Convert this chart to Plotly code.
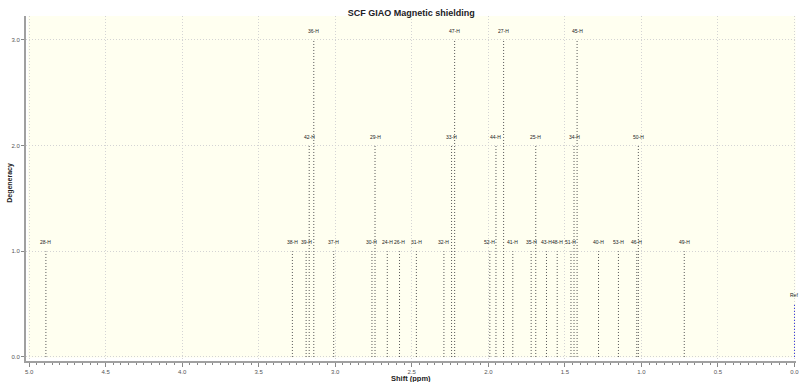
import plotly.graph_objects as go

# ---- data ----
labels = ["28-H", "38-H", "39-H", "42-H", "36-H", "37-H", "30-H", "29-H", "24-H", "26-H",
          "31-H", "32-H", "33-H", "47-H", "52-H", "44-H", "27-H", "41-H", "35-H", "25-H",
          "43-H", "48-H", "51-H", "34-H", "45-H", "40-H", "53-H", "46-H", "50-H", "49-H"]
shifts = [4.89, 3.28, 3.19, 3.17, 3.14, 3.01, 2.76, 2.74, 2.66, 2.58,
          2.47, 2.29, 2.24, 2.22, 1.99, 1.95, 1.90, 1.84, 1.72, 1.69,
          1.62, 1.55, 1.46, 1.44, 1.42, 1.28, 1.15, 1.03, 1.02, 0.72]
degeneracy = [1, 1, 1, 2, 3, 1, 1, 2, 1, 1,
              1, 1, 2, 3, 1, 2, 3, 1, 1, 2,
              1, 1, 1, 2, 3, 1, 1, 1, 2, 1]
ref_label = "Ref"
ref_shift = 0.0
ref_height = 0.5

title_text = "SCF GIAO Magnetic shielding"
x_title = "Shift (ppm)"
y_title = "Degeneracy"

FONT = "Liberation Sans, Arial, sans-serif"

fig = go.Figure()

# stick lines
xs, ys = [], []
for s, d in zip(shifts, degeneracy):
    xs += [s, s, None]
    ys += [0, d, None]
fig.add_trace(go.Scatter(x=xs, y=ys, mode="lines",
                         line=dict(color="#555555", width=1, dash="1px,2px"),
                         hoverinfo="skip", showlegend=False))
fig.add_trace(go.Scatter(x=[ref_shift, ref_shift], y=[0, ref_height], mode="lines",
                         line=dict(color="#3333dd", width=1, dash="1px,2px"),
                         hoverinfo="skip", showlegend=False))

# labels
for s, d, lab in zip(shifts + [ref_shift], degeneracy + [ref_height], labels + [ref_label]):
    fig.add_annotation(x=s, y=d, text=lab, showarrow=False, yshift=9,
                       font=dict(family=FONT, size=5, color="#222222"))

# axis titles
fig.add_annotation(xref="paper", yref="paper", x=0.5, y=-0.05, yanchor="middle",
                   text="<b>" + x_title + "</b>", showarrow=False,
                   font=dict(family=FONT, size=7.5, color="#222222"))
fig.add_annotation(xref="paper", yref="paper", x=-0.021, y=0.516, xanchor="center", yanchor="middle",
                   text="<b>" + y_title + "</b>", showarrow=False, textangle=-90,
                   font=dict(family=FONT, size=7, color="#222222"))

# pale plot background
fig.add_shape(type="rect", xref="x", yref="y", x0=5.007, x1=-0.007, y0=-0.005, y1=3.226,
              fillcolor="#fffff0", line=dict(width=0), layer="below")

fig.update_layout(
    width=800, height=382,
    margin=dict(l=26, r=4, t=16, b=21, autoexpand=False),
    paper_bgcolor="white", plot_bgcolor="white",
    title=dict(text="<b>" + title_text + "</b>", x=0.514, xanchor="center", y=0.966, yanchor="middle",
               font=dict(family=FONT, size=9, color="#222222")),
    showlegend=False,
)
fig.update_xaxes(
    range=[5.02, -0.01], tickmode="linear", tick0=0, dtick=0.5, tickformat=".1f",
    showgrid=True, gridcolor="#d4d4d4", griddash="1px,2px", gridwidth=1, zeroline=False,
    showline=True, linecolor="#a0a0a0", linewidth=2, automargin=False,
    ticks="outside", ticklen=4, tickcolor="#888888", tickwidth=1,
    minor=dict(dtick=0.05, tick0=0, ticks="outside", ticklen=2, tickcolor="#888888", showgrid=False),
    tickfont=dict(family=FONT, size=6, color="#555555"),
)
fig.update_yaxes(
    range=[-0.038, 3.226], tickmode="array", tickvals=[0, 1, 2, 3], tickformat=".1f",
    showgrid=True, gridcolor="#d4d4d4", griddash="1px,2px", gridwidth=1, zeroline=False,
    showline=True, linecolor="#a0a0a0", linewidth=2, automargin=False,
    ticks="outside", ticklen=3, tickcolor="#888888", tickwidth=1,
    tickfont=dict(family=FONT, size=6, color="#555555"),
)

fig.write_html("out.html", config={"displayModeBar": False},
               post_script="document.body.style.margin='0';")
